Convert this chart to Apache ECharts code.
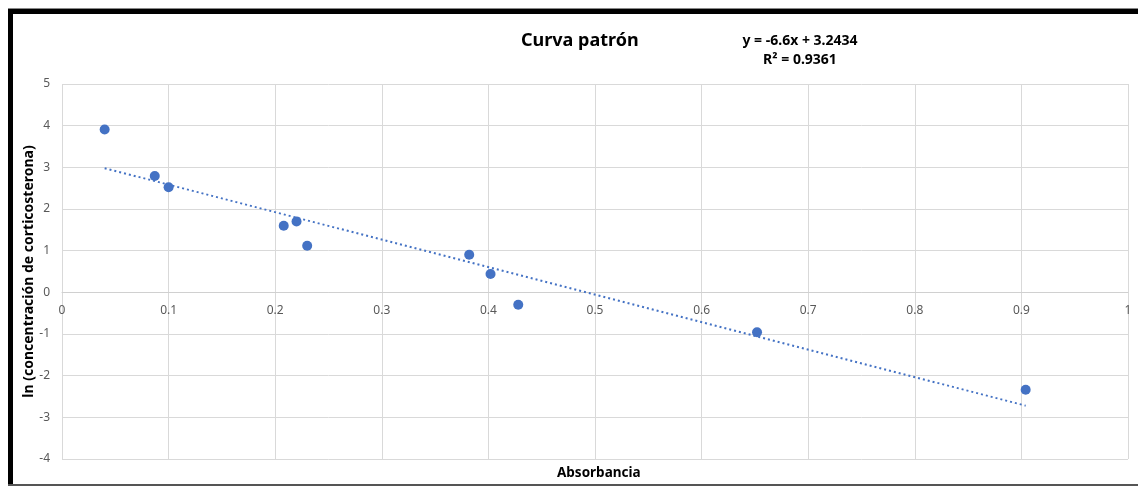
<!DOCTYPE html>
<html>
  <head>
    <meta charset="utf-8" />
    <title>Curva patrón</title>
    <script src="https://cdn.jsdelivr.net/npm/echarts@6/dist/echarts.min.js"></script>
    <style>
      * {
        padding: 0;
        margin: 0;
      }
      #chart-panel {
        width: 1138px;
        height: 486px;
        background: #fff;
      }
    </style>
  </head>
  <body>
    <div id="chart-panel"></div>
    <script type="text/javascript">
      // absorbancia (x) y ln(concentración) (y)
      var absorbancia = [0.04, 0.087, 0.1, 0.208, 0.22, 0.23, 0.382, 0.402, 0.428, 0.652, 0.904];
      var lnConc = [3.91, 2.79, 2.52, 1.6, 1.7, 1.12, 0.9, 0.44, -0.3, -0.96, -2.34];

      // extremos de la línea de tendencia
      var trendX = [0.04, 0.904];
      var trendY = [2.98, -2.72];

      var ecuacion = "y = -6.6x + 3.2434";
      var r2 = "R² = 0.9361";

      var font = "'Noto Sans', 'Open Sans', sans-serif";
      var azul = "#4472C4";

      var puntos = absorbancia.map(function (x, i) {
        return [x, lnConc[i]];
      });
      var tendencia = trendX.map(function (x, i) {
        return [x, trendY[i]];
      });

      var myChart = echarts.init(document.getElementById("chart-panel"));

      var option = {
        backgroundColor: "#fff",
        animation: false,
        title: [
          {
            text: "Curva patrón",
            left: 516,
            top: 27,
            textStyle: { fontFamily: font, fontSize: 18, fontWeight: "bold", color: "#000" },
          },
          {
            text: "Absorbancia",
            left: 552,
            top: 461,
            textStyle: { fontFamily: font, fontSize: 13.5, fontWeight: "bold", color: "#000" },
          },
        ],
        grid: {
          left: 62,
          right: 10,
          top: 84,
          bottom: 27,
        },
        xAxis: {
          type: "value",
          min: 0,
          max: 1,
          interval: 0.1,
          // el eje x cruza en y = 0 (167 px por encima del borde inferior)
          offset: -167,
          axisLine: { onZero: false, lineStyle: { color: "#d0d0d0" } },
          axisTick: { show: false },
          axisLabel: {
            color: "#595959",
            fontFamily: font,
            fontSize: 12,
            margin: 13,
          },
          splitLine: { show: true, lineStyle: { color: "#d9d9d9" } },
        },
        yAxis: {
          type: "value",
          min: -4,
          max: 5,
          interval: 1,
          name: "ln (concentración de corticosterona)",
          nameLocation: "middle",
          nameGap: 26,
          nameMoveOverlap: false,
          nameTextStyle: { fontFamily: font, fontSize: 14, fontWeight: "bold", color: "#000" },
          axisLine: { show: false },
          axisTick: { show: false },
          axisLabel: {
            color: "#595959",
            fontFamily: font,
            fontSize: 12,
            margin: 12,
          },
          splitLine: { show: true, lineStyle: { color: "#d9d9d9" } },
        },
        graphic: [
          // marco negro de la imagen
          { type: "rect", shape: { x: 8, y: 8, width: 1130, height: 1 }, style: { fill: "#888" } },
          { type: "rect", shape: { x: 8, y: 9, width: 1130, height: 5 }, style: { fill: "#000" } },
          { type: "rect", shape: { x: 8, y: 9, width: 5, height: 477 }, style: { fill: "#000" } },
          { type: "rect", shape: { x: 8, y: 484, width: 1130, height: 2 }, style: { fill: "#555" } },
          {
            type: "text",
            x: 800,
            y: 32,
            style: {
              text: ecuacion + "\n" + r2,
              textAlign: "center",
              fontFamily: font,
              fontSize: 14,
              fontWeight: "bold",
              lineHeight: 19,
              fill: "#000",
            },
          },
        ],
        series: [
          {
            name: "tendencia",
            type: "line",
            data: tendencia,
            symbol: "none",
            lineStyle: { color: azul, width: 2, type: [2, 3] },
            z: 2,
          },
          {
            name: "datos",
            type: "scatter",
            data: puntos,
            symbolSize: 10,
            itemStyle: { color: azul, opacity: 1 },
            z: 3,
          },
        ],
      };

      myChart.setOption(option);
    </script>
  </body>
</html>
